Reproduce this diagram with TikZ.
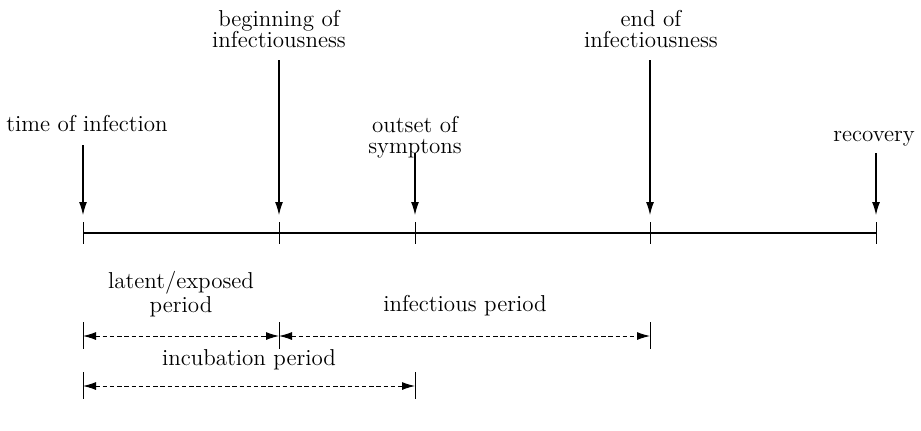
\documentclass[tikz,border=0pt]{standalone}
\usepackage{tikz}
\usetikzlibrary{arrows.meta}

\begin{document}
\begin{tikzpicture}[x=0.5pt,y=-0.5pt,>={Latex[length=6.5pt,width=4pt]},line width=0.55pt,align=center,
        font=\fontsize{11.5}{10.5}\selectfont,
        event/.style={inner sep=1pt,anchor=south},
        tick/.style={line width=0.5pt},
        span/.style={<->,dashed,dash pattern=on 2.2pt off 1.4pt,line width=0.5pt}]
        \useasboundingbox (0,0) rectangle (921,430);

        % points on the time axis
        \coordinate (t0) at (83,233);
        \coordinate (t1) at (279,233);
        \coordinate (t2) at (415,233);
        \coordinate (t3) at (650,233);
        \coordinate (t4) at (876,233);
        \draw[line width=1.2pt] (t0) -- (t4);
        \foreach \t in {t0,t1,t2,t3,t4}
            \draw[tick] ([yshift=5.5pt]\t) -- ([yshift=-5.5pt]\t);

        % events
        \node[event] (inf) at (87,134) {time of infection};
        \node[event] (beg) at (279,50) {beginning of\\infectiousness};
        \node[event] (out) at (415,161) {outset of\\symptons};
        \node[event] (end) at (651,50) {end of\\infectiousness};
        \node[event] (rec) at (874,149) {recovery};

        \draw[->] (inf.south -| t0) ++(0,11) -- ([yshift=9pt]t0);
        \draw[->] (beg.south -| t1) ++(0,10) -- ([yshift=9pt]t1);
        \draw[->] (out.south -| t2) ++(0,-8) -- ([yshift=9pt]t2);
        \draw[->] (end.south -| t3) ++(0,10) -- ([yshift=9pt]t3);
        \draw[->] (rec.south -| t4) ++(0,4) -- ([yshift=9pt]t4);

        % periods
        \coordinate (p0) at (83,336);
        \coordinate (p1) at (279,336);
        \coordinate (p3) at (650,336);
        \coordinate (q0) at (83,386);
        \coordinate (q2) at (415,386);
        \foreach \p in {p0,p1,p3,q0,q2}
            \draw[tick] ([yshift=7pt]\p) -- ([yshift=-6.5pt]\p);
        \draw[span] (p0) -- (p1);
        \draw[span] (p1) -- (p3);
        \draw[span] (q0) -- (q2);

        \node (lat) at (181,294) {latent/exposed\\period};
        \node (ifp) at (465,306) {infectious period};
        \node (inc) at (249,360) {incubation period};
\end{tikzpicture}
\end{document}
